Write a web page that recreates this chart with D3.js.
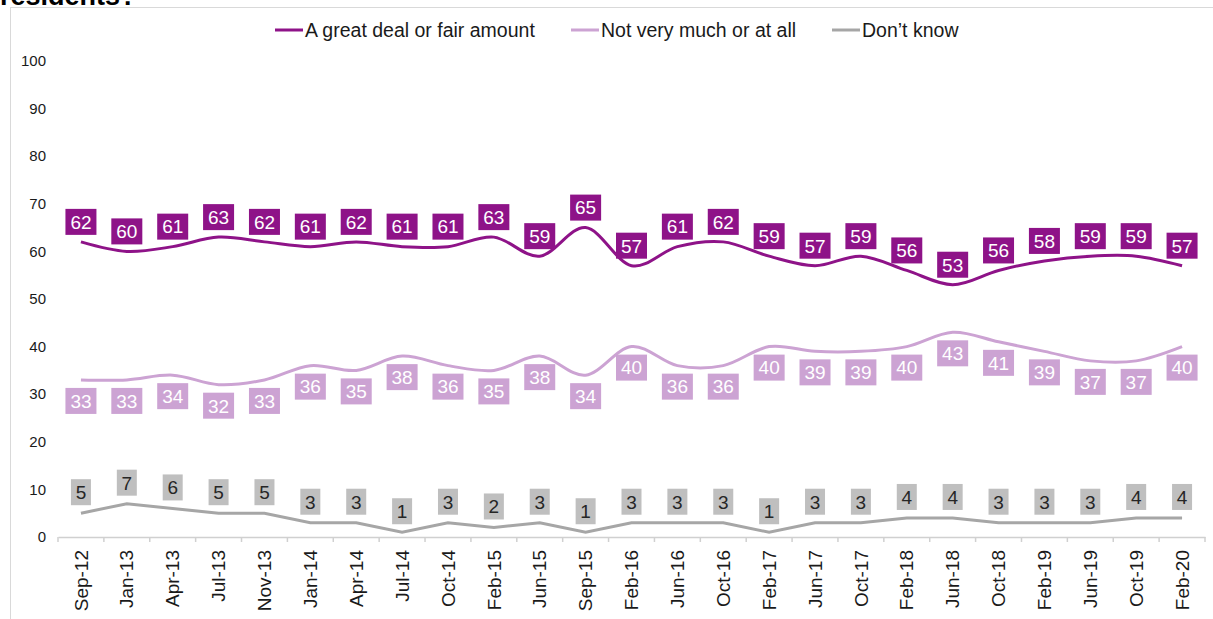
<!DOCTYPE html>
<meta charset="utf-8">
<style>
  body { margin: 0; background: #fff; }
  svg text { font-family: "Liberation Sans", Arial, sans-serif; }
</style>
<body>
<script src="https://cdn.jsdelivr.net/npm/d3@7"></script>
<script>
// waves of the survey
const categories = ['Sep-12','Jan-13','Apr-13','Jul-13','Nov-13','Jan-14','Apr-14','Jul-14','Oct-14',
  'Feb-15','Jun-15','Sep-15','Feb-16','Jun-16','Oct-16','Feb-17','Jun-17','Oct-17','Feb-18','Jun-18',
  'Oct-18','Feb-19','Jun-19','Oct-19','Feb-20'];
const greatDeal = [62,60,61,63,62,61,62,61,61,63,59,65,57,61,62,59,57,59,56,53,56,58,59,59,57];
const notMuch   = [33,33,34,32,33,36,35,38,36,35,38,34,40,36,36,40,39,39,40,43,41,39,37,37,40];
const dontKnow  = [5,7,6,5,5,3,3,1,3,2,3,1,3,3,3,1,3,3,4,4,3,3,3,4,4];
const yTicks = [0,10,20,30,40,50,60,70,80,90,100];

const series = [
  { name: 'A great deal or fair amount', values: greatDeal, color: '#8E1388', box: '#8E1388', text: '#fff', dy: -20, curve: true },
  { name: 'Not very much or at all', values: notMuch, color: '#CCA3D3', box: '#CCA3D3', text: '#fff', dy: 21, curve: true },
  { name: 'Don\u2019t know', values: dontKnow, color: '#A6A6A6', box: '#BFBFBF', text: '#262626', dy: -21, curve: false }
];

const width = 1213, height = 619;
const svg = d3.select('body').append('svg')
  .attr('width', width).attr('height', height);

// frame + cut-off title
svg.append('rect').attr('x', 10.5).attr('y', 7.5).attr('width', 1220).attr('height', 700)
  .attr('fill', 'none').attr('stroke', '#d9d9d9');
svg.append('text').attr('x', 0).attr('y', 5).attr('font-size', 27).attr('font-weight', 'bold')
  .attr('fill', '#000').text('residents?');

const x = d3.scaleBand().domain(categories).range([58, 1205]);
const y = d3.scaleLinear().domain([0, 100]).range([537, 61]);

// y labels (no axis line)
svg.append('g').selectAll('text').data(yTicks).join('text')
  .attr('x', 46).attr('y', d => y(d)).attr('dy', '0.35em')
  .attr('text-anchor', 'end').attr('font-size', 15).attr('fill', '#1a1a1a')
  .text(d => d);

// x axis
const xAxis = svg.append('g').attr('transform', `translate(0,${y(0)})`)
  .call(d3.axisBottom(x).tickSize(0).tickPadding(0));
xAxis.select('.domain').attr('stroke', '#d0d0d0').attr('stroke-width', 1.5);
xAxis.selectAll('.tick text')
  .attr('font-size', 19).attr('fill', '#1a1a1a')
  .attr('text-anchor', 'end')
  .attr('transform', 'rotate(-90)')
  .attr('x', -13).attr('y', 0).attr('dy', '0.35em');
// tick marks between bands
svg.append('g').selectAll('line').data(d3.range(categories.length + 1)).join('line')
  .attr('x1', i => 58 + i * x.step()).attr('x2', i => 58 + i * x.step())
  .attr('y1', y(0)).attr('y2', y(0) + 5)
  .attr('stroke', '#d0d0d0').attr('stroke-width', 1.5);

const cx = c => x(c) + x.bandwidth() / 2;

series.forEach(s => {
  const line = d3.line()
    .x((d, i) => cx(categories[i]))
    .y(d => y(d))
    .curve(s.curve ? d3.curveCatmullRom.alpha(0) : d3.curveLinear);
  svg.append('path').datum(s.values)
    .attr('d', line).attr('fill', 'none')
    .attr('stroke', s.color).attr('stroke-width', 3);

  const g = svg.append('g').selectAll('g').data(s.values).join('g')
    .attr('transform', (d, i) => `translate(${cx(categories[i])},${y(d) + s.dy})`);
  g.append('rect')
    .attr('x', d => d >= 10 ? -15.5 : -10).attr('y', -13)
    .attr('width', d => d >= 10 ? 31 : 20).attr('height', 26)
    .attr('fill', s.box);
  g.append('text').attr('text-anchor', 'middle').attr('dy', '0.36em')
    .attr('font-size', 19).attr('fill', s.text).text(d => d);
});

// legend
const legendX = [275, 571, 832];
series.forEach((s, i) => {
  const lg = svg.append('g').attr('transform', `translate(${legendX[i]},30)`);
  lg.append('line').attr('x1', 0).attr('x2', 28).attr('stroke', s.color).attr('stroke-width', 3);
  lg.append('text').attr('x', 30).attr('dy', '0.35em').attr('font-size', 19.5)
    .attr('fill', '#1a1a1a').text(s.name);
});
</script>
</body>
